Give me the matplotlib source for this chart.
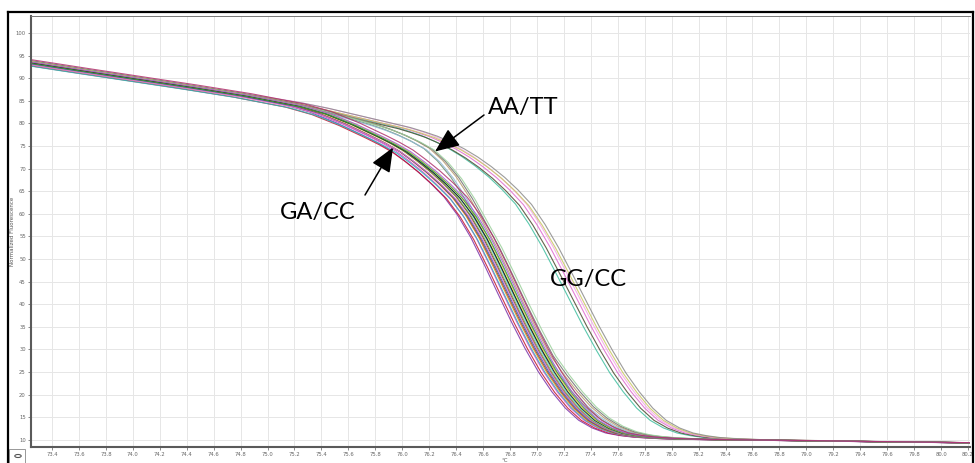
import matplotlib
matplotlib.use("Agg")
import matplotlib.pyplot as plt
from matplotlib.lines import Line2D
from matplotlib.patches import Rectangle, Circle
import numpy as np

# Temperature grid (°C) of the melt curves
temps = [73.10, 73.60, 74.00, 74.40, 74.80, 75.20, 75.40, 75.60, 75.80, 75.90,
         76.00, 76.10, 76.20, 76.30, 76.40, 76.50, 76.60, 76.70, 76.80, 76.90,
         77.00, 77.10, 77.20, 77.30, 77.40, 77.50, 77.60, 77.70, 77.80, 77.90,
         78.00, 78.10, 78.20, 78.30, 78.40, 78.60, 79.00, 79.50, 80.35]

# Normalized fluorescence of each genotype cluster
ga_cc = [94.0, 91.7, 89.9, 88.1, 86.2, 83.9, 82.2, 79.8, 77.0, 75.5,
         73.8, 71.6, 69.2, 66.5, 63.5, 59.5, 54.5, 48.5, 42.2, 36.0,
         30.2, 25.0, 20.6, 17.0, 14.3, 12.6, 11.5, 10.95, 10.6, 10.4,
         10.25, 10.15, 10.1, 10.05, 10.0, 9.95, 9.8, 9.6, 9.3]
aa_tt = [94.0, 91.7, 89.9, 88.1, 86.3, 84.3, 82.9, 81.3, 79.6, 78.6,
         77.4, 76.0, 74.3, 71.6, 68.0, 63.4, 58.0, 52.6, 46.5, 40.2,
         34.2, 28.6, 24.4, 20.6, 17.3, 14.8, 13.0, 11.8, 11.1, 10.7,
         10.45, 10.3, 10.2, 10.1, 10.05, 9.95, 9.8, 9.6, 9.3]
gg_cc = [94.0, 91.7, 89.9, 88.1, 86.3, 84.4, 83.2, 81.8, 80.4, 79.7,
         79.0, 78.1, 77.1, 75.8, 74.3, 72.5, 70.4, 68.0, 65.2, 62.0,
         57.6, 52.5, 46.8, 41.0, 35.2, 29.8, 24.8, 20.6, 17.0, 14.3,
         12.6, 11.5, 10.9, 10.5, 10.3, 10.05, 9.85, 9.6, 9.3]

# Per-sample temperature shifts and plateau offsets within each cluster
ga_shift = [-0.09, -0.07, -0.05, -0.04, -0.03, -0.02, -0.01, 0.00,
            0.00, 0.01, 0.02, 0.03, 0.04, 0.05, 0.06, 0.08]
ga_dy = [0.4, -0.3, 0.2, -0.5, 0.3, 0.0, -0.2, 0.5,
         -0.4, 0.1, 0.3, -0.1, 0.2, -0.3, 0.0, 0.4]
aa_shift = [-0.04, -0.02, 0.00, 0.02, 0.04]
aa_dy = [0.2, -0.2, 0.3, 0.0, -0.3]
gg_shift = [-0.06, -0.03, 0.00, 0.02, 0.04, 0.06]
gg_dy = [0.3, -0.2, 0.0, 0.4, -0.3, 0.1]

ga_colors = ["#7a2fa8", "#c4122f", "#d43fd4", "#2bb7b7", "#e0892a", "#8b4a1c",
             "#3652c8", "#3a3a3a", "#f07cc0", "#9a9a38", "#4fd3d3", "#111111",
             "#e3cf3a", "#3f9f3f", "#a15ad8", "#b0306a"]
aa_colors = ["#6d8f6d", "#8fb8d8", "#b89a6a", "#707070", "#9ad09a"]
gg_colors = ["#3fbf9f", "#4a4a2e", "#e06ad0", "#f2a6e6", "#c8c860", "#8a8a8a"]

x_ticks = [round(73.4 + 0.2 * i, 1) for i in range(35)]
y_ticks = list(range(10, 101, 5))

W, H = 975, 463
fig = plt.figure(figsize=(W / 100, H / 100), dpi=100)
fig.patch.set_facecolor("white")

ax = fig.add_axes([31 / W, (H - 447) / H, (970 - 31) / W, (447 - 16) / H])
ax.set_xlim(73.244, 80.215)
ax.set_ylim(8.41, 103.76)

t = np.array(temps)


def draw_cluster(values, shifts, dys, colors):
    v = np.array(values)
    for s, d, c in zip(shifts, dys, colors):
        y = v + d * (v - 9.0) / 85.0
        ax.plot(t + s, y, color=c, lw=0.8, alpha=0.85, solid_capstyle="round")


draw_cluster(gg_cc, gg_shift, gg_dy, gg_colors)
draw_cluster(aa_tt, aa_shift, aa_dy, aa_colors)
draw_cluster(ga_cc, ga_shift, ga_dy, ga_colors)

# grid and ticks
ax.set_xticks(x_ticks)
ax.set_xticklabels([f"{v:.1f}" for v in x_ticks])
ax.set_yticks(y_ticks)
ax.set_yticklabels([str(v) for v in y_ticks])
ax.grid(True, color="#e6e6e6", lw=0.7)
ax.set_axisbelow(True)
ax.tick_params(axis="both", direction="out", length=2.2, width=0.6,
               colors="#777777", labelsize=3.8, labelcolor="#666666", pad=1.5)

for side in ("left", "bottom"):
    ax.spines[side].set_color("#5a5a5a")
    ax.spines[side].set_linewidth(1.5)
ax.spines["top"].set_color("#777777")
ax.spines["top"].set_linewidth(0.7)
ax.spines["right"].set_visible(False)

fig.text(13 / W, (H - 231) / H, "Normalized Fluorescence", rotation=90,
         fontsize=4, color="#555555", ha="center", va="center")
fig.text(505 / W, (H - 461) / H, "°C", fontsize=4, color="#555555",
         ha="center", va="center")

# outer frame
for (x0, y0, x1, y1) in [(8, H, 8, 12), (8, 12, 973, 12), (973, 12, 973, H)]:
    fig.add_artist(Line2D([x0 / W, x1 / W], [(H - y0) / H, (H - y1) / H],
                          color="black", lw=1.6, transform=fig.transFigure))

# zoom tool icon
fig.add_artist(Rectangle((9 / W, 0), 16 / W, 14 / H, transform=fig.transFigure,
                         fill=False, ec="#888888", lw=0.6))
fig.add_artist(Circle((18 / W, 7 / H), 3.2 / W, transform=fig.transFigure,
                      fill=False, ec="#555555", lw=0.8))


def px(xp, yp):
    return 73.4 + (xp - 52) / 134.7, 100 - (yp - 33) / 4.52


label_font = dict(fontsize=17, family=["Lato", "DejaVu Sans"], color="black",
                  ha="center", va="center")
arrow = dict(arrowstyle="-|>,head_length=1.0,head_width=0.42", color="black",
             lw=1.1, mutation_scale=15, shrinkA=0, shrinkB=0)

ax.text(*px(523, 108), "AA/TT", **label_font)
ax.text(*px(318, 212), "GA/CC", **label_font)
ax.text(*px(588, 279), "GG/CC", **label_font)
ax.annotate("", xy=px(435, 151.5), xytext=px(484, 115), arrowprops=arrow)
ax.annotate("", xy=px(393, 147.5), xytext=px(365, 195), arrowprops=arrow)

fig.savefig("out.png", dpi=100)
